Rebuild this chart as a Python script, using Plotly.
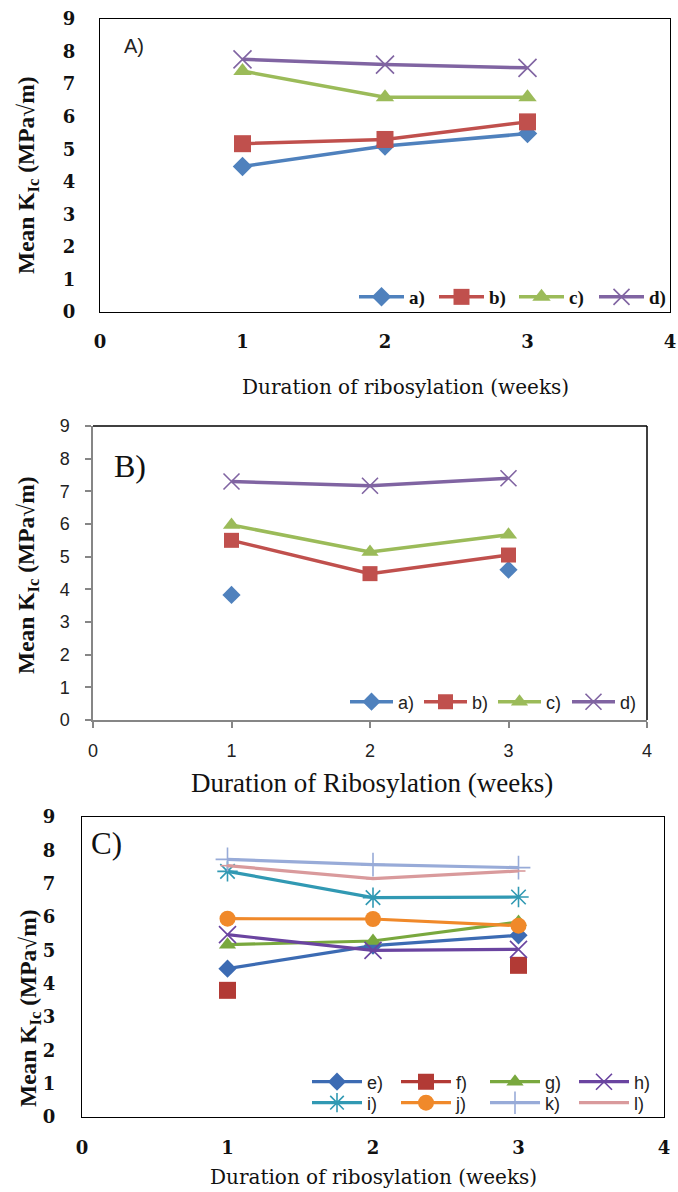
import plotly.graph_objects as go

# ---------------- data ----------------
weeks = [1, 2, 3]
x_ticks = [0, 1, 2, 3, 4]
y_ticks = [0, 1, 2, 3, 4, 5, 6, 7, 8, 9]

# Panel A
A_a = [4.47, 5.10, 5.48]
A_b = [5.17, 5.30, 5.84]
A_c = [7.40, 6.60, 6.60]
A_d = [7.76, 7.60, 7.50]

# Panel B
B_a = [3.83, None, 4.60]
B_b = [5.50, 4.48, 5.05]
B_c = [5.97, 5.14, 5.67]
B_d = [7.30, 7.17, 7.40]

# Panel C
C_e = [4.45, 5.14, 5.45]
C_f = [3.80, None, 4.55]
C_g = [5.17, 5.28, 5.85]
C_h = [5.47, 5.00, 5.03]
C_i = [7.37, 6.58, 6.60]
C_j = [5.95, 5.94, 5.74]
C_k = [7.73, 7.57, 7.48]
C_l = [7.54, 7.15, 7.38]

labels_A = ["a)", "b)", "c)", "d)"]
labels_C = ["e)", "f)", "g)", "h)", "i)", "j)", "k)", "l)"]

x_title_A = "Duration of ribosylation (weeks)"
x_title_B = "Duration of Ribosylation (weeks)"
x_title_C = "Duration of ribosylation (weeks)"
y_title = "Mean K<sub>Ic</sub> (MPa\u221am)"

# ---------------- style ----------------
W, H = 678, 1192
SERIF = "Liberation Serif"
WIDE_SERIF = "DejaVu Serif"
SANS = "Liberation Sans"

BLUE, RED, GREEN, PURPLE = "#4F81BD", "#C0504D", "#9BBB59", "#8064A2"
C_COLORS = ["#3C6BB3", "#B23A35", "#79A83E", "#6A44A0",
            "#3199B3", "#F0892A", "#98ABD8", "#D99A9C"]
THIN = {"x-thin", "asterisk", "cross-thin", "line-ew"}


def px_x(p):
    return p / W


def px_y(p):
    return 1 - p / H


fig = go.Figure()


def add(y, name, color, symbol, size, xa, ya, legend, lw=3.2):
    marker = dict(symbol=symbol, size=size, color=color)
    if symbol in THIN:
        marker["line"] = dict(color=color, width=1.6)
    fig.add_trace(go.Scatter(
        x=weeks, y=y, name=name, mode="lines+markers",
        line=dict(color=color, width=lw), marker=marker,
        xaxis=xa, yaxis=ya, legend=legend, connectgaps=False,
        hoverinfo="x+y+name"))


# Panel A
for y, n, c, s, sz in zip([A_a, A_b, A_c, A_d], labels_A,
                          [BLUE, RED, GREEN, PURPLE],
                          ["diamond", "square", "triangle-up", "x-thin"],
                          [15, 17, 16, 18]):
    add(y, n, c, s, sz, "x", "y", "legend", lw=3.5)

# Panel B
for y, n, c, s, sz in zip([B_a, B_b, B_c, B_d], labels_A,
                          [BLUE, RED, GREEN, PURPLE],
                          ["diamond", "square", "triangle-up", "x-thin"],
                          [14, 15, 15, 16]):
    add(y, n, c, s, sz, "x2", "y2", "legend2", lw=3.5)

# Panel C
C_series = [C_e, C_f, C_g, C_h, C_i, C_j, C_k, C_l]
C_symbols = ["diamond", "square", "triangle-up", "x-thin",
             "asterisk", "circle", "cross-thin", "line-ew"]
C_sizes = [14, 17, 15, 17, 17, 16, 17, 10]
for idx, (y, n, c, s, sz) in enumerate(zip(C_series, labels_C, C_COLORS, C_symbols, C_sizes)):
    add(y, n, c, s, sz, "x3", "y3", "legend3" if idx < 4 else "legend4", lw=3.2)

# ---------------- axes ----------------
dom = {
    "A": dict(x=[px_x(100), px_x(670)], y=[px_y(312), px_y(19)]),
    "B": dict(x=[px_x(93), px_x(647)], y=[px_y(720), px_y(426)]),
    "C": dict(x=[px_x(82), px_x(664)], y=[px_y(1117), px_y(817)]),
}

serif_bold_tick = dict(family=WIDE_SERIF, size=18, color="#111", weight="bold")
sans_tick = dict(family=SANS, size=18, color="#222")


def xa(domain, anchor, font, boxed, standoff):
    d = dict(domain=domain, anchor=anchor, range=[0, 4], tickmode="array",
             tickvals=x_ticks, showgrid=False, zeroline=False, showline=True,
             tickfont=font, fixedrange=True, ticklabelstandoff=standoff)
    if boxed:
        d.update(linecolor="black", linewidth=1, mirror=True, ticks="")
    else:
        d.update(linecolor="#868686", linewidth=1.5, ticks="outside", ticklen=6,
                 tickcolor="#868686", tickwidth=1.5)
    return d


def ya(domain, anchor, font, boxed, standoff):
    d = dict(domain=domain, anchor=anchor, range=[0, 9], tickmode="array",
             tickvals=y_ticks, showgrid=False, zeroline=False, showline=True,
             tickfont=font, fixedrange=True, ticklabelstandoff=standoff)
    if boxed:
        d.update(linecolor="black", linewidth=1, mirror=True, ticks="")
    else:
        d.update(linecolor="#868686", linewidth=1.5, ticks="outside", ticklen=6,
                 tickcolor="#868686", tickwidth=1.5)
    return d


fig.update_layout(
    xaxis=xa(dom["A"]["x"], "y", serif_bold_tick, True, 13),
    yaxis=ya(dom["A"]["y"], "x", serif_bold_tick, True, 20),
    xaxis2=xa(dom["B"]["x"], "y2", sans_tick, False, 8),
    yaxis2=ya(dom["B"]["y"], "x2", sans_tick, False, 12),
    xaxis3=xa(dom["C"]["x"], "y3", serif_bold_tick, True, 14),
    yaxis3=ya(dom["C"]["y"], "x3", serif_bold_tick, True, 22),
)

# black top/right borders of panel B
fig.add_shape(type="line", xref="x2 domain", yref="y2 domain", x0=0, x1=1, y0=1, y1=1,
              line=dict(color="black", width=1.5))
fig.add_shape(type="line", xref="x2 domain", yref="y2 domain", x0=1, x1=1, y0=0, y1=1,
              line=dict(color="black", width=1.5))

# ---------------- legends ----------------
def legend(x_px, y_px, font, itemwidth, entrywidth):
    return dict(orientation="h", x=px_x(x_px), y=px_y(y_px), xanchor="left",
                yanchor="middle", bgcolor="rgba(0,0,0,0)", borderwidth=0,
                font=font, itemwidth=itemwidth, entrywidth=entrywidth,
                entrywidthmode="pixels", itemclick=False, itemdoubleclick=False,
                tracegroupgap=0)


fig.update_layout(
    legend=legend(354, 297, dict(family=SERIF, size=19, color="#111", weight="bold"), 45, 20),
    legend2=legend(345, 702, dict(family=SANS, size=18, color="#222"), 43, 16),
    legend3=legend(307, 1082, dict(family=SANS, size=18, color="#222"), 50, 24),
    legend4=legend(307, 1103, dict(family=SANS, size=18, color="#222"), 50, 24),
)

# ---------------- titles / labels ----------------
ann = []


def text(x_px, y_px, s, font, angle=0):
    ann.append(dict(x=px_x(x_px), y=px_y(y_px), xref="paper", yref="paper", text=s,
                    showarrow=False, font=font, textangle=angle,
                    xanchor="center", yanchor="middle"))


ytfont = dict(family=SERIF, size=23.5, color="#111", weight="bold")
text(28, 175, y_title, ytfont, -90)
text(28, 575, y_title, ytfont, -90)
text(30, 1008, y_title, ytfont, -90)

text(405, 387, x_title_A, dict(family=WIDE_SERIF, size=20, color="#111"))
text(372, 783, x_title_B, dict(family=SERIF, size=27, color="#111"))
text(373, 1177, x_title_C, dict(family=WIDE_SERIF, size=20, color="#111"))

text(134, 46, "A)", dict(family=SANS, size=20, color="#222"))
text(130, 466, "B)", dict(family=SERIF, size=32, color="#111"))
text(106, 843, "C)", dict(family=SERIF, size=31, color="#111"))

fig.update_layout(
    annotations=ann,
    width=W, height=H, margin=dict(l=0, r=0, t=0, b=0, autoexpand=False),
    paper_bgcolor="white", plot_bgcolor="white",
    showlegend=True,
)

fig.write_html("out.html", config={"displayModeBar": False})
